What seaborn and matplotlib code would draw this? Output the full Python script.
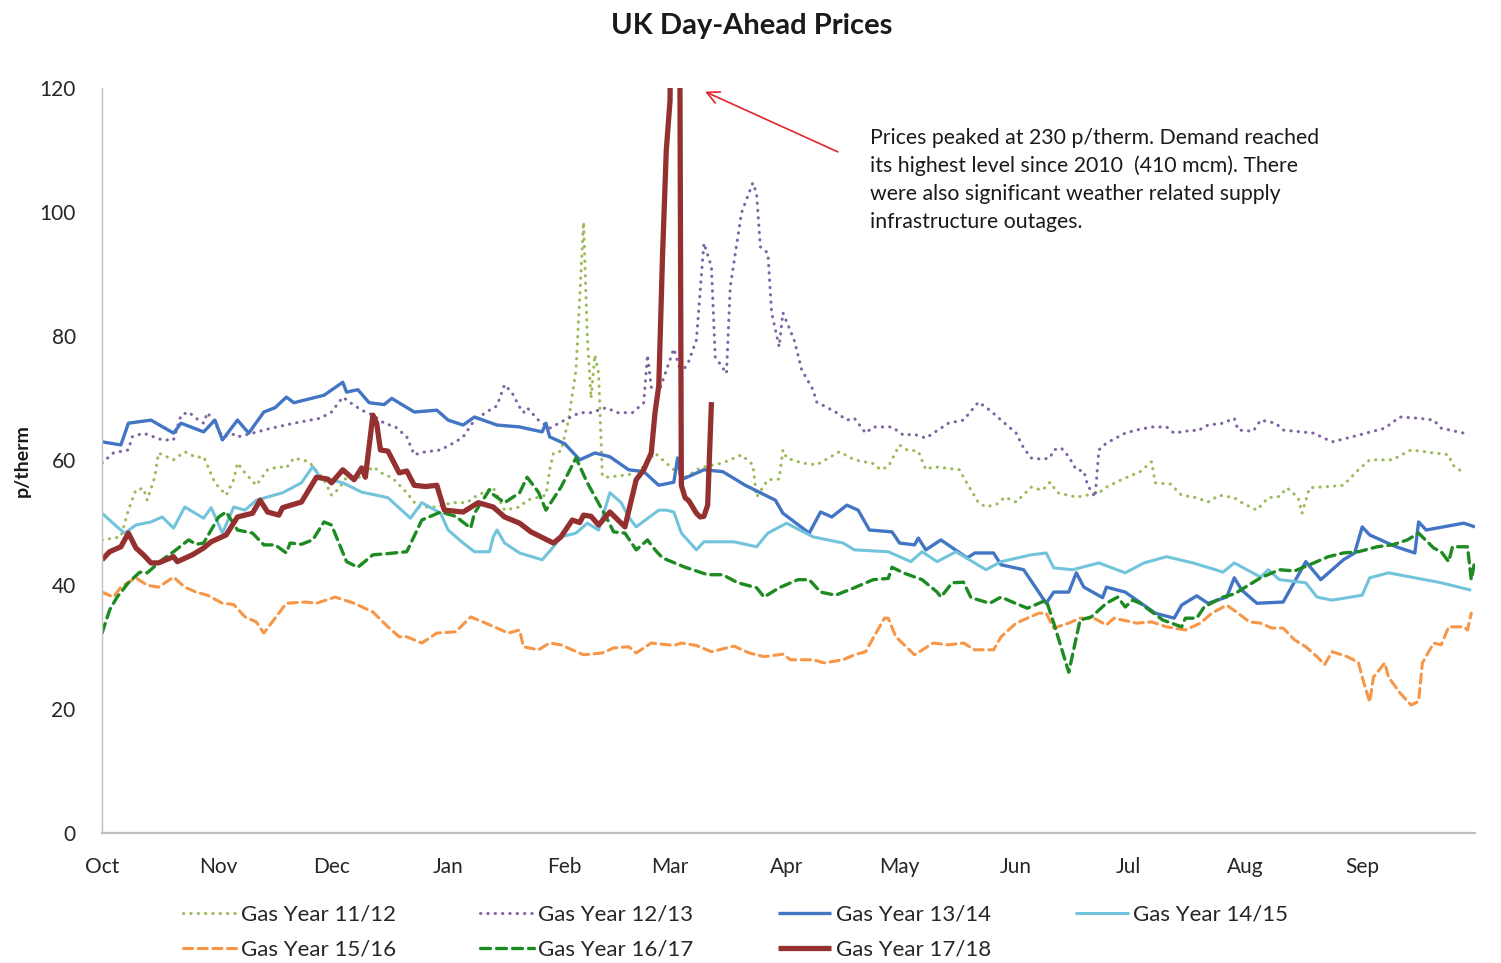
import matplotlib
matplotlib.use("Agg")
import matplotlib.pyplot as plt
import seaborn as sns

# --- DATA (day of gas year from 1 Oct, price in p/therm) ---
months = ["Oct", "Nov", "Dec", "Jan", "Feb", "Mar", "Apr", "May", "Jun", "Jul", "Aug", "Sep"]
month_start = [0, 31, 61, 92, 123, 151, 182, 212, 243, 273, 304, 335]
y_ticks = [0, 20, 40, 60, 80, 100, 120]

gy1112_day = [0, 5, 7, 9, 11, 12, 14, 15, 19, 22, 25, 27, 30, 33, 35, 36, 38, 41, 44, 47, 49, 51, 55, 59, 61, 63,
              65, 69, 72, 75, 77, 81, 84, 89, 93, 97, 99, 104, 107, 111, 113, 118, 119, 120, 122, 124, 126, 128,
              129, 130, 131, 132, 133, 134, 140, 144, 147, 149, 152, 155, 159, 165, 170, 173, 174, 177, 180, 181,
              182, 186, 190, 196, 200, 205, 207, 209, 212, 214, 217, 219, 221, 228, 229, 233, 235, 238, 240, 243,
              247, 250, 252, 254, 259, 261, 265, 267, 271, 276, 279, 280, 284, 287, 291, 294, 297, 301, 303, 307,
              310, 313, 315, 318, 319, 321, 326, 330, 334, 337, 343, 348, 353, 358, 359, 362]
gy1112_val = [47.2, 47.7, 52, 55.3, 55.5, 53.6, 57.3, 61.2, 60.1, 61.4, 60.5, 60.6, 56.4, 54.4, 56.9, 59.6, 58, 56,
              58.5, 59, 58.8, 60.4, 59.8, 56.9, 54.4, 55.5, 57.3, 57.3, 59, 57.7, 57.3, 54.8, 52.5, 52.5, 53.2, 53.2,
              54.1, 55.6, 52, 52.5, 53.6, 54.4, 58.5, 61.2, 61.5, 66.5, 74.6, 98.4, 80, 70, 77, 74, 57.5, 57.3, 57.7,
              59, 61.2, 60.1, 58.5, 57.3, 58.8, 59.6, 60.9, 59.3, 54.1, 56.9, 57, 61.7, 60.4, 59.6, 59.3, 61.4, 60.1,
              59.5, 58.5, 59, 62.5, 61.7, 61.5, 58.5, 59, 58.5, 57.3, 53.2, 52.5, 53, 54.1, 53.3, 55.7, 55.2, 56.5,
              54.8, 54.1, 54.3, 54.8, 55.7, 56.9, 58.2, 59.8, 56.4, 56.2, 54.4, 54, 53.3, 54.4, 54, 53.2, 52, 54,
              54.2, 55.6, 54, 51.5, 55.6, 55.8, 56, 58.5, 60.1, 60.1, 61.7, 61.3, 60.9, 59.3, 58]

gy1213_day = [0, 3, 7, 8, 11, 16, 19, 21, 23, 25, 27, 28, 30, 32, 35, 36, 40, 45, 51, 58, 61, 64, 66, 69, 72, 75,
              78, 81, 83, 85, 90, 94, 96, 99, 103, 105, 107, 109, 111, 112, 113, 116, 119, 123, 127, 130, 134, 137,
              141, 144, 145, 146, 148, 152, 154, 156, 158, 160, 162, 163, 166, 167, 169, 170, 173, 174, 175, 177,
              178, 180, 181, 184, 186, 189, 190, 195, 198, 200, 203, 205, 210, 213, 216, 219, 221, 225, 229, 233,
              236, 239, 243, 245, 247, 250, 252, 253, 255, 257, 259, 261, 262, 264, 265, 267, 272, 275, 279, 283,
              285, 290, 291, 294, 298, 301, 302, 306, 308, 312, 314, 322, 327, 331, 336, 341, 345, 350, 354, 356, 362]
gy1213_val = [59.6, 61.2, 61.7, 63.8, 64.4, 63.3, 63.3, 67.3, 67.8, 66.8, 66, 67.7, 66, 63.8, 64.2, 63.8, 64.4, 65.2,
              66, 66.8, 67.8, 70.2, 69.3, 68.1, 67.3, 66, 65.4, 63.8, 60.9, 61.3, 61.7, 63, 63.8, 66.5, 68.1, 68.8,
              72.2, 70.9, 68.6, 67.7, 68.5, 66.5, 65.2, 66.5, 67.7, 67.7, 68.5, 67.7, 67.7, 69.3, 77, 71.8, 71, 78,
              74, 76, 79.4, 95, 91.2, 76.7, 74, 88, 96, 99.9, 104.7, 103, 94.4, 93.4, 83.8, 78.3, 83.8, 79.4, 74.6,
              71.4, 69.4, 67.8, 66.5, 66.8, 64.4, 65.4, 65.4, 64.1, 64.2, 63.6, 64.4, 66, 66.5, 69.4, 68.1, 66.5,
              64.4, 62, 60.4, 60.2, 60.4, 61.7, 62, 60.6, 58.5, 58.3, 56, 54.1, 61.7, 62.8, 64.4, 64.9, 65.4, 65.4,
              64.4, 64.9, 64.7, 65.7, 66, 66.8, 64.9, 64.7, 66.5, 66, 64.9, 64.4, 63, 63.6, 64.4, 65.2, 67, 66.8,
              66.5, 65.2, 64.4]

gy1314_day = [0, 5, 7, 13, 19, 21, 27, 30, 32, 36, 39, 43, 46, 49, 51, 59, 64, 65, 68, 71, 75, 77, 83, 89, 92, 96,
              99, 105, 111, 117, 118, 119, 123, 127, 131, 135, 140, 144, 148, 152, 153, 154, 160, 165, 171, 179, 181,
              188, 191, 194, 198, 201, 204, 210, 212, 216, 217, 219, 223, 230, 232, 237, 239, 245, 251, 253, 257, 259,
              261, 266, 267, 272, 280, 285, 287, 291, 294, 299, 301, 303, 307, 314, 320, 324, 330, 333, 335, 337, 344,
              349, 350, 352, 362, 365]
gy1314_val = [63, 62.5, 66, 66.5, 64.4, 66, 64.6, 66.5, 63.3, 66.5, 64.4, 67.8, 68.5, 70.2, 69.3, 70.5, 72.6, 71, 71.4,
              69.3, 69, 70, 67.8, 68.1, 66.5, 65.7, 67, 65.7, 65.4, 64.6, 66, 63.8, 62.7, 60.1, 61.2, 60.6, 58.5, 58.2,
              56, 56.5, 60.4, 56.9, 58.5, 58.2, 56, 53.6, 51.5, 48.3, 51.7, 50.9, 52.8, 52, 48.8, 48.5, 46.7, 46.4,
              47.5, 45.6, 47.2, 44.3, 45.1, 45.1, 43.2, 42.4, 37, 38.8, 38.8, 41.9, 39.6, 37.9, 39.6, 38.8, 35.4, 34.6,
              36.7, 38.2, 37, 38, 41.1, 39.1, 37, 37.2, 43.7, 40.8, 44, 45.1, 49.3, 48, 46.1, 45.1, 50.1, 48.8, 49.9,
              49.3]

gy1415_day = [0, 4, 6, 9, 13, 16, 19, 22, 27, 29, 32, 35, 38, 41, 48, 53, 56, 58, 64, 69, 73, 76, 82, 85, 90, 92, 96,
              99, 103, 104, 105, 107, 111, 117, 120, 122, 126, 129, 132, 135, 138, 140, 142, 148, 150, 152, 154, 158,
              160, 168, 174, 177, 182, 189, 197, 200, 209, 215, 218, 222, 227, 235, 239, 247, 251, 253, 258, 265, 272,
              277, 283, 290, 296, 298, 301, 308, 310, 313, 320, 323, 327, 335, 337, 342, 356, 364]
gy1415_val = [51.5, 49.3, 48.3, 49.6, 50.1, 50.9, 49.1, 52.5, 50.7, 52.4, 48.3, 52.5, 52, 53.6, 54.8, 56.4, 59, 57.3,
              56.4, 54.9, 54.4, 54, 50.7, 53.2, 51.5, 48.8, 46.7, 45.3, 45.3, 47.7, 48.8, 46.7, 45.1, 44, 46.1, 47.7,
              48.3, 49.9, 48.8, 54.8, 53.2, 50.9, 49.3, 52, 52, 51.7, 48.3, 45.6, 46.9, 46.9, 46.1, 48.3, 49.9, 47.7,
              46.7, 45.6, 45.3, 43.7, 45.3, 43.7, 45.3, 42.4, 43.7, 44.8, 45.1, 42.7, 42.4, 43.5, 41.9, 43.5, 44.5,
              43.5, 42.4, 42, 43.5, 41.2, 42.4, 40.8, 40.3, 38, 37.5, 38.3, 41.1, 41.9, 40.3, 39.1]

gy1516_day = [0, 3, 5, 9, 12, 15, 19, 22, 25, 28, 32, 35, 38, 41, 43, 46, 49, 54, 57, 62, 67, 72, 76, 79, 81, 85, 89,
              94, 98, 102, 105, 108, 111, 112, 116, 119, 122, 128, 133, 136, 140, 142, 146, 152, 154, 158, 162, 168,
              172, 176, 181, 183, 189, 192, 197, 200, 203, 205, 208, 209, 211, 216, 221, 225, 229, 232, 237, 239, 243,
              249, 251, 253, 257, 260, 264, 267, 269, 275, 279, 283, 288, 292, 295, 299, 302, 305, 308, 311, 314, 317,
              320, 323, 325, 327, 331, 334, 335, 337, 338, 341, 342, 345, 348, 350, 351, 354, 356, 358, 362, 363, 364]
gy1516_val = [38.8, 38, 39.6, 41.1, 39.9, 39.6, 41.2, 39.6, 38.8, 38.3, 37, 36.8, 34.8, 34, 32.2, 34.6, 37, 37.2, 37,
              38, 37, 35.6, 33.2, 31.6, 31.6, 30.6, 32.2, 32.4, 34.8, 33.8, 33, 32.2, 32.7, 30, 29.5, 30.6, 30.3, 28.7,
              29, 29.8, 30, 29, 30.6, 30.2, 30.6, 30.2, 29.2, 30.1, 29, 28.4, 28.8, 27.9, 27.9, 27.4, 27.9, 28.7, 29.2,
              31.4, 34.6, 34.6, 31.6, 28.7, 30.6, 30.3, 30.6, 29.5, 29.5, 31.6, 33.8, 35.4, 35.4, 33, 33.8, 34.6, 34.5,
              33.5, 34.6, 33.8, 34, 33.2, 32.7, 33.8, 35.4, 36.7, 35.4, 34, 33.8, 33, 33, 31.1, 30, 28.4, 27.1, 29.2,
              28.4, 27.5, 25.1, 21.1, 25.1, 27.4, 25.1, 22.6, 20.6, 21.2, 27.4, 30.6, 30.3, 33.2, 33.2, 32.7, 35.4]

gy1617_day = [0, 2, 4, 7, 10, 12, 16, 19, 23, 25, 27, 31, 33, 36, 40, 43, 46, 49, 50, 53, 56, 59, 61, 65, 68, 72, 76,
              81, 85, 90, 94, 98, 99, 103, 104, 107, 111, 113, 116, 118, 122, 126, 129, 134, 136, 139, 142, 145, 147,
              149, 155, 161, 165, 169, 174, 176, 180, 185, 188, 191, 195, 200, 205, 209, 210, 213, 218, 222, 223, 226,
              229, 231, 236, 239, 242, 246, 251, 253, 257, 260, 263, 267, 270, 272, 274, 276, 282, 287, 288, 291, 293,
              298, 301, 308, 313, 317, 321, 326, 330, 334, 339, 343, 347, 350, 354, 356, 358, 359, 363, 364, 365]
gy1617_val = [32.2, 35.9, 38, 40.3, 42, 41.9, 44, 45.3, 47.2, 46.5, 46.7, 50.9, 51.7, 48.8, 48.3, 46.4, 46.4, 45.1,
              46.7, 46.5, 47.2, 50.1, 49.6, 43.7, 42.8, 44.8, 45, 45.3, 50.4, 51.7, 51, 49.1, 51.5, 55.3, 54.5, 53.2,
              54.8, 57.3, 54.9, 52, 55.7, 60.4, 56.4, 50.9, 48.5, 48.3, 45.6, 47.2, 45.6, 44.3, 42.8, 41.6, 41.6, 40.3,
              39.5, 38, 39.5, 40.8, 40.8, 38.8, 38.3, 39.5, 40.8, 41, 42.8, 41.9, 40.8, 38.8, 38, 40.3, 40.4, 37.9, 37,
              38, 37.2, 36.2, 37.5, 33.8, 25.9, 34.3, 34.8, 37, 38, 36.4, 37.5, 37, 34.3, 33.2, 34.6, 34.6, 36.4, 38,
              38.5, 41.1, 42.4, 42.2, 43.2, 44.5, 45.1, 45.3, 46.1, 46.4, 47.2, 48.3, 45.9, 45.3, 43.7, 46.1, 46.1,
              40.8, 44]

gy1718_day = [0, 2, 5, 7, 9, 11, 13, 15, 19, 20, 24, 27, 29, 33, 36, 40, 42, 44, 47, 48, 53, 55, 57, 60, 61, 64, 67,
              69, 70, 72, 73, 74, 76, 79, 81, 83, 86, 89, 91, 96, 100, 104, 107, 111, 114, 120, 122, 125, 127, 128,
              130, 132, 135, 138, 139, 142, 144, 146, 147, 148, 149, 150, 151, 152, 153, 154, 155, 156, 158, 159, 160,
              161, 162]
gy1718_val = [44, 45.3, 46.1, 48.3, 45.9, 44.8, 43.5, 43.5, 44.5, 43.7, 44.8, 45.9, 46.9, 48, 50.9, 51.5, 53.6, 51.7,
              51.2, 52.4, 53.3, 55.3, 57.3, 57, 56.4, 58.5, 56.9, 58.8, 57.3, 67.3, 66, 61.7, 61.5, 58, 58.3, 56, 55.8,
              56, 52, 51.7, 53.2, 52.5, 50.9, 49.9, 48.5, 46.7, 47.7, 50.4, 50, 51.2, 51, 49.6, 51.7, 49.9, 49.3, 56.9,
              58.5, 61.2, 67.7, 72, 93, 110, 118, 230, 230, 56, 54, 53.5, 51.5, 50.9, 51, 52.8, 69.4]

# --- STYLE ---
sns.set_style("white")
plt.rcParams["font.family"] = ["Lato", "DejaVu Sans"]

dots = (0, (0.1, 2.3))
dash = (0, (3, 1.8))
series = [
    ("Gas Year 11/12", gy1112_day, gy1112_val, "#9bbb59", dots, 2.2),
    ("Gas Year 12/13", gy1213_day, gy1213_val, "#8064a2", dots, 2.2),
    ("Gas Year 13/14", gy1314_day, gy1314_val, "#4275c4", "-", 2.4),
    ("Gas Year 14/15", gy1415_day, gy1415_val, "#72c3dc", "-", 2.2),
    ("Gas Year 15/16", gy1516_day, gy1516_val, "#f79646", dash, 2.2),
    ("Gas Year 16/17", gy1617_day, gy1617_val, "#1d8a22", dash, 2.4),
    ("Gas Year 17/18", gy1718_day, gy1718_val, "#943130", "-", 3.8),
]

fig = plt.figure(figsize=(15.01, 9.63), dpi=100)
ax = fig.add_axes([0.068, 0.135, 0.9147, 0.7737])

for label, days, vals, color, ls, lw in series:
    sns.lineplot(x=days, y=vals, ax=ax, color=color, linestyle=ls, linewidth=lw,
                 label=label, estimator=None, errorbar=None,
                 dash_capstyle="round", solid_capstyle="butt")

ax.set_xlim(0, 365)
ax.set_ylim(0, 120)
ax.set_xticks(month_start + [365])
ax.set_xticklabels(months + [""])
ax.set_yticks(y_ticks)
ax.set_xlabel("")
ax.set_ylabel("")

for side in ["top", "right"]:
    ax.spines[side].set_visible(False)
for side in ["left", "bottom"]:
    ax.spines[side].set_color("#c0c0c0")
ax.spines["bottom"].set_linewidth(1.6)
ax.spines["left"].set_linewidth(1.0)
ax.tick_params(axis="both", direction="out", colors="#c0c0c0", labelcolor="#262626",
               labelsize=15, length=7, width=1)
ax.tick_params(axis="y", pad=12)
ax.tick_params(axis="x", pad=10)

fig.text(0.501, 0.973, "UK Day-Ahead Prices", ha="center", va="center",
         fontsize=21, fontweight="bold", color="#1a1a1a")
fig.text(0.0147, 0.522, "p/therm", ha="center", va="center", rotation=90,
         fontsize=14, fontweight="bold", color="#1a1a1a")

# annotation for the 17/18 spike
ax.text(204.1, 113.6,
        "Prices peaked at 230 p/therm. Demand reached\n"
        "its highest level since 2010  (410 mcm). There\n"
        "were also significant weather related supply\n"
        "infrastructure outages.",
        ha="left", va="top", fontsize=15.3, linespacing=1.48, color="#1a1a1a")
ax.annotate("", xy=(160.3, 119.4), xytext=(195.6, 109.7), annotation_clip=False,
            arrowprops=dict(arrowstyle="->", color="#e0272d", lw=1.2,
                            mutation_scale=22, shrinkA=0, shrinkB=0))

# legend: 2 rows filled row-wise
handles, labels = ax.get_legend_handles_labels()
ax.get_legend().remove()
order = [0, 4, 1, 5, 2, 6, 3]
fig.legend([handles[i] for i in order], [labels[i] for i in order],
           ncol=4, loc="center", bbox_to_anchor=(0.49, 0.032), frameon=False,
           fontsize=16, handlelength=2.4, handletextpad=0.2,
           columnspacing=3.8, labelspacing=0.65, labelcolor="#262626")

fig.savefig("out.png", dpi=100)
